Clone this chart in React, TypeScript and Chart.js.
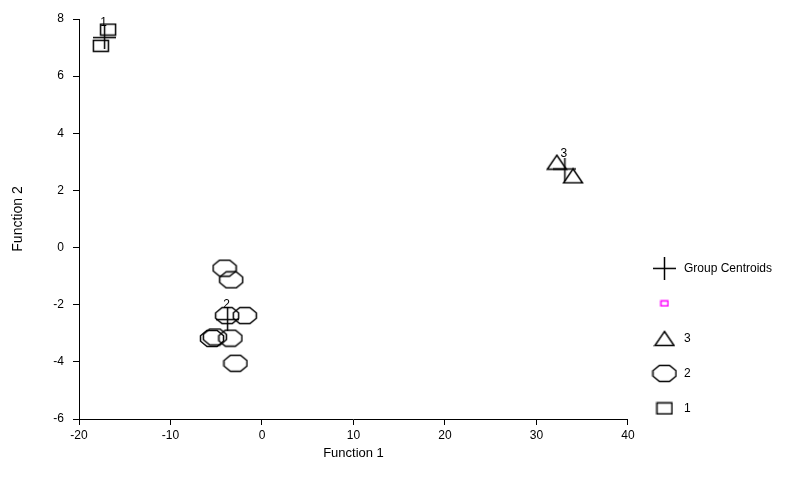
import { useEffect, useRef } from 'react';
import { Chart, registerables } from 'chart.js';

Chart.register(...registerables);

// ---- data ----
const group1X = [-16.82, -17.61];
const group1Y = [7.63, 7.06];
const group2X = [-4.09, -3.36, -3.81, -1.88, -5.46, -5.15, -3.45, -2.9];
const group2Y = [-0.72, -1.13, -2.38, -2.38, -3.18, -3.13, -3.17, -4.05];
const group3X = [32.22, 34.0];
const group3Y = [2.99, 2.51];
const centroidX = [-17.2, -3.76, 33.1];
const centroidY = [7.35, -2.52, 2.75];
const centroidLabels = ['1', '2', '3'];
const legendLabels = ['Group Centroids', '', '3', '2', '1'];
const xMin = -20;
const xMax = 40;
const xStep = 10;
const yMin = -6;
const yMax = 8;
const yStep = 2;

const FONT = "Arial, 'Liberation Sans', sans-serif";

function makeMarker(w: number, h: number, draw: (ctx: CanvasRenderingContext2D) => void) {
  const c = document.createElement('canvas');
  c.width = w;
  c.height = h;
  const ctx = c.getContext('2d')!;
  ctx.strokeStyle = '#000';
  ctx.lineWidth = 1.5;
  draw(ctx);
  return c;
}

function pts(xs: number[], ys: number[]) {
  return xs.map((x, i) => ({ x, y: ys[i] }));
}

export default function App() {
  const ref = useRef<HTMLCanvasElement | null>(null);

  useEffect(() => {
    if (!ref.current) return;

    const square = makeMarker(18, 14, (ctx) => {
      ctx.strokeRect(1.5, 1.5, 15, 11);
    });
    const octagon = makeMarker(26, 19, (ctx) => {
      const w = 23, h = 16, o = 1.5;
      ctx.beginPath();
      ctx.moveTo(o + 0.28 * w, o);
      ctx.lineTo(o + 0.72 * w, o);
      ctx.lineTo(o + w, o + 0.33 * h);
      ctx.lineTo(o + w, o + 0.67 * h);
      ctx.lineTo(o + 0.72 * w, o + h);
      ctx.lineTo(o + 0.28 * w, o + h);
      ctx.lineTo(o, o + 0.67 * h);
      ctx.lineTo(o, o + 0.33 * h);
      ctx.closePath();
      ctx.stroke();
    });
    const triangle = makeMarker(22, 17, (ctx) => {
      ctx.beginPath();
      ctx.moveTo(11, 1.5);
      ctx.lineTo(20.5, 15.5);
      ctx.lineTo(1.5, 15.5);
      ctx.closePath();
      ctx.stroke();
    });
    const cross = makeMarker(23, 23, (ctx) => {
      ctx.beginPath();
      ctx.moveTo(0, 11.5);
      ctx.lineTo(23, 11.5);
      ctx.moveTo(11.5, 0);
      ctx.lineTo(11.5, 23);
      ctx.stroke();
    });
    const magenta = makeMarker(10, 8, (ctx) => {
      ctx.strokeStyle = '#ff00ff';
      ctx.lineWidth = 1.5;
      ctx.strokeRect(1.5, 1.5, 7, 5);
    });

    const centroidLabelPlugin = {
      id: 'centroidLabels',
      afterDatasetsDraw(chart: any) {
        const { ctx, scales } = chart;
        const x = scales.x;
        const y = scales.y;
        ctx.save();
        ctx.font = `12px ${FONT}`;
        ctx.fillStyle = '#000';
        ctx.textAlign = 'center';
        ctx.textBaseline = 'middle';
        centroidLabels.forEach((t, i) => {
          ctx.fillText(t, x.getPixelForValue(centroidX[i]) - 1, y.getPixelForValue(centroidY[i]) - 15);
        });
        ctx.restore();
      },
    };

    const chart = new Chart(ref.current, {
      type: 'scatter',
      data: {
        datasets: [
          { label: legendLabels[0], data: pts(centroidX, centroidY), pointStyle: cross as any, pointRadius: 5 },
          { label: legendLabels[1], data: [], pointStyle: magenta as any, pointRadius: 5 },
          { label: legendLabels[2], data: pts(group3X, group3Y), pointStyle: triangle as any, pointRadius: 5 },
          { label: legendLabels[3], data: pts(group2X, group2Y), pointStyle: octagon as any, pointRadius: 5 },
          { label: legendLabels[4], data: pts(group1X, group1Y), pointStyle: square as any, pointRadius: 5 },
        ],
      },
      options: {
        animation: false,
        responsive: true,
        maintainAspectRatio: false,
        layout: { padding: { top: 19, right: 9, bottom: 0, left: 0 } },
        plugins: {
          tooltip: { enabled: false },
          legend: {
            position: 'right',
            align: 'start',
            title: { display: true, text: '', font: { size: 12, family: FONT }, padding: { top: 206, bottom: 0 } },
            labels: {
              usePointStyle: true,
              pointStyleWidth: 27,
              padding: 23,
              color: '#000',
              font: { size: 12, family: FONT },
            },
          },
        },
        scales: {
          x: {
            type: 'linear',
            min: xMin,
            max: xMax,
            ticks: { stepSize: xStep, color: '#000', font: { size: 12, family: FONT }, padding: 3 },
            grid: { drawOnChartArea: false, drawTicks: true, tickLength: 6, color: '#000' },
            border: { display: true, color: '#000', width: 1 },
            title: { display: true, text: 'Function 1', color: '#000', font: { size: 13, family: FONT }, padding: { top: 0, bottom: 26 } },
            afterFit: (s: any) => { s.height = 68; },
          },
          y: {
            type: 'linear',
            min: yMin,
            max: yMax,
            ticks: { stepSize: yStep, color: '#000', font: { size: 12, family: FONT }, padding: 9 },
            grid: { drawOnChartArea: false, drawTicks: true, tickLength: 6, color: '#000' },
            border: { display: true, color: '#000', width: 1 },
            title: { display: true, text: 'Function 2', color: '#000', font: { size: 14, family: FONT }, padding: { top: 10, bottom: 0 } },
            afterFit: (s: any) => { s.width = 79; },
          },
        },
      },
      plugins: [centroidLabelPlugin],
    });

    return () => chart.destroy();
  }, []);

  return (
    <div style={{ position: 'fixed', left: 0, top: 0, width: 791, height: 487, background: '#fff' }}>
      <canvas ref={ref} />
    </div>
  );
}
